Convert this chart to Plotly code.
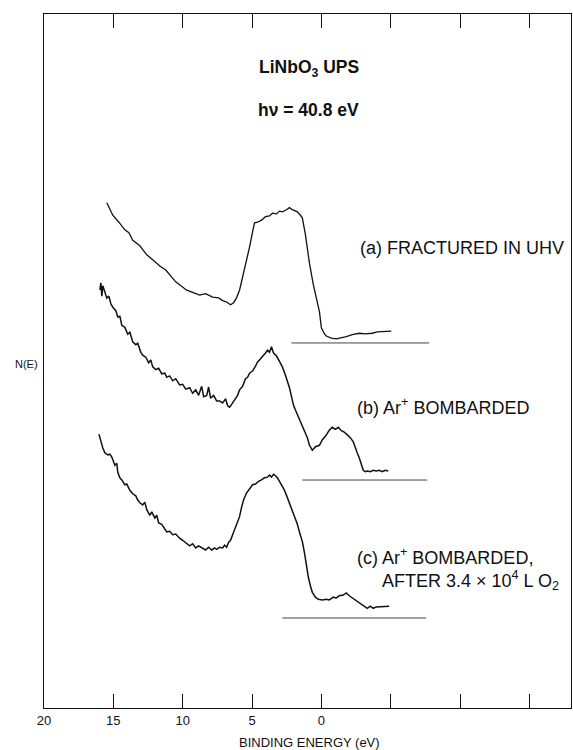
import plotly.graph_objects as go

# Binding energy (eV) and N(E) (arbitrary units, relative to each zero line)
energy_a = [15.47, 15.04, 14.60, 14.17, 13.88, 13.60, 13.09, 12.59, 12.16, 11.65,
            11.22, 10.79, 10.50, 10.22, 9.71, 9.28, 8.78, 8.35, 7.84, 7.41,
            7.12, 6.83, 6.55, 6.33, 6.12, 5.90, 5.68, 5.40, 5.18, 4.96,
            4.82, 4.60, 4.32, 4.03, 3.74, 3.53, 3.24, 3.02, 2.81, 2.52,
            2.30, 2.09, 1.87, 1.73, 1.51, 1.37, 1.15, 0.86, 0.58, 0.36,
            0.14, 0.00, -0.22, -0.36, -0.72, -1.08, -1.44, -1.80, -2.23, -2.73,
            -3.17, -3.67, -4.03, -4.39, -4.75, -5.04]
counts_a = [20.2, 18.4, 17.4, 16.3, 15.9, 14.8, 14.0, 12.7, 12.0, 11.1,
            10.5, 9.5, 8.8, 8.4, 7.6, 7.3, 6.9, 7.1, 6.6, 6.5,
            6.1, 5.9, 5.5, 5.8, 6.5, 7.6, 9.5, 11.7, 13.8, 16.0,
            17.3, 17.4, 17.7, 18.2, 18.3, 18.7, 18.6, 19.0, 18.9, 19.2,
            19.5, 19.2, 19.0, 18.9, 18.4, 18.0, 15.6, 11.5, 8.4, 6.6,
            4.5, 2.2, 1.3, 1.0, 0.7, 0.6, 0.7, 0.9, 1.2, 1.4,
            1.3, 1.4, 1.6, 1.6, 1.7, 1.7]

energy_b = [15.97, 15.90, 15.83, 15.76, 15.61, 15.47, 15.32, 15.18, 15.04, 14.82,
            14.68, 14.53, 14.39, 14.17, 13.96, 13.81, 13.60, 13.38, 13.24, 13.02,
            12.88, 12.66, 12.45, 12.30, 12.16, 11.94, 11.73, 11.51, 11.29, 11.15,
            10.94, 10.72, 10.50, 10.22, 10.00, 9.78, 9.50, 9.28, 9.06, 8.85,
            8.63, 8.49, 8.27, 8.13, 7.99, 7.77, 7.55, 7.34, 7.12, 6.91,
            6.76, 6.62, 6.47, 6.26, 6.04, 5.90, 5.68, 5.47, 5.32, 5.18,
            4.96, 4.75, 4.60, 4.46, 4.24, 4.03, 3.88, 3.74, 3.60, 3.45,
            3.24, 3.09, 2.95, 2.81, 2.59, 2.45, 2.30, 2.16, 2.01, 1.87,
            1.73, 1.51, 1.37, 1.22, 1.01, 0.86, 0.65, 0.43, 0.14, -0.07,
            -0.29, -0.58, -0.79, -1.01, -1.22, -1.44, -1.65, -1.87, -2.09, -2.30,
            -2.45, -2.59, -2.73, -2.88, -3.02, -3.17, -3.31, -3.53, -3.74, -3.96,
            -4.17, -4.39, -4.60, -4.82]
counts_b = [27.4, 28.4, 26.5, 28.0, 27.1, 26.2, 26.5, 25.4, 24.9, 24.4,
            23.5, 23.6, 22.3, 22.0, 21.0, 21.3, 19.9, 19.5, 19.7, 18.4,
            18.0, 17.7, 16.9, 17.3, 16.3, 15.9, 16.1, 15.3, 15.4, 14.8,
            15.0, 14.3, 14.6, 13.7, 13.8, 13.1, 13.3, 12.5, 13.0, 12.2,
            13.5, 12.0, 12.2, 13.4, 11.8, 12.2, 11.4, 11.4, 11.1, 11.7,
            10.7, 10.5, 10.9, 11.5, 12.2, 13.0, 13.5, 14.6, 14.8, 15.4,
            15.7, 16.4, 17.0, 17.3, 17.9, 18.3, 18.7, 18.4, 19.2, 18.3,
            17.9, 17.4, 16.9, 16.3, 15.1, 14.3, 13.3, 12.1, 10.8, 10.1,
            9.4, 8.5, 7.8, 7.1, 6.1, 5.0, 4.3, 4.8, 5.0, 5.8,
            6.3, 7.2, 7.6, 7.3, 7.6, 7.1, 6.9, 6.5, 6.1, 5.5,
            4.8, 3.9, 3.2, 2.2, 1.4, 1.2, 1.3, 1.2, 1.4, 1.3,
            1.4, 1.2, 1.4, 1.3]

energy_c = [16.04, 15.97, 15.90, 15.76, 15.61, 15.40, 15.25, 15.11, 14.89, 14.75,
            14.68, 14.53, 14.39, 14.17, 14.03, 13.81, 13.60, 13.38, 13.24, 13.09,
            12.88, 12.73, 12.59, 12.37, 12.23, 12.01, 11.87, 11.73, 11.51, 11.37,
            11.15, 10.94, 10.72, 10.50, 10.22, 10.00, 9.78, 9.50, 9.28, 9.06,
            8.85, 8.56, 8.35, 8.13, 7.91, 7.70, 7.55, 7.34, 7.12, 6.98,
            6.83, 6.69, 6.55, 6.40, 6.26, 6.12, 5.90, 5.76, 5.61, 5.40,
            5.18, 4.96, 4.75, 4.53, 4.32, 4.10, 3.88, 3.74, 3.60, 3.45,
            3.31, 3.17, 3.02, 2.81, 2.66, 2.52, 2.30, 2.09, 1.87, 1.73,
            1.58, 1.37, 1.22, 1.08, 0.94, 0.79, 0.65, 0.43, 0.22, -0.07,
            -0.36, -0.58, -0.86, -1.08, -1.29, -1.58, -1.80, -2.01, -2.23, -2.45,
            -2.66, -2.88, -3.09, -3.31, -3.53, -3.74, -3.96, -4.17, -4.46, -4.75,
            -4.89]
counts_c = [26.5, 25.9, 25.5, 24.5, 23.8, 23.5, 23.6, 23.2, 22.0, 22.3,
            21.0, 20.2, 19.9, 19.2, 19.3, 18.4, 17.9, 17.6, 17.0, 16.6,
            16.3, 16.7, 15.6, 14.8, 15.3, 14.4, 14.8, 13.7, 13.5, 13.0,
            12.4, 12.5, 12.0, 12.1, 11.5, 11.2, 10.8, 10.4, 10.7, 10.1,
            10.4, 10.1, 9.8, 10.2, 9.8, 10.1, 9.9, 10.2, 10.1, 10.5,
            10.2, 10.9, 11.2, 12.0, 12.7, 13.4, 14.6, 15.9, 17.0, 18.0,
            18.7, 19.2, 19.3, 19.7, 19.9, 20.2, 20.3, 20.6, 20.3, 20.7,
            20.5, 20.2, 19.7, 19.0, 18.4, 17.7, 16.6, 15.3, 14.4, 13.5,
            12.4, 11.0, 9.4, 7.6, 5.9, 4.6, 3.7, 3.0, 2.7, 2.6,
            2.7, 2.6, 3.0, 2.9, 3.2, 3.3, 3.6, 3.2, 2.9, 2.6,
            2.2, 1.9, 1.6, 1.4, 1.7, 1.4, 1.6, 1.6, 1.7, 1.6,
            1.7]

# Vertical offset of each spectrum and the energy span of its zero line
offsets = {"a": 52.6, "b": 32.85, "c": 12.97}
zero_spans = {"a": [2.16, -7.77], "b": [1.37, -7.63], "c": [2.81, -7.55]}
line_widths = {"a": 1.3, "b": 1.5, "c": 1.5}

tick_vals = [20, 15, 10, 5, 0, -5, -10, -15]
tick_text = ["20", "15", "10", "5", "0", "", "", ""]

INK = "#111111"
FONT = "Liberation Sans, Arial, Helvetica, sans-serif"

fig = go.Figure()

spectra = [("a", energy_a, counts_a), ("b", energy_b, counts_b), ("c", energy_c, counts_c)]
for key, e, n in spectra:
    off = offsets[key]
    fig.add_trace(go.Scatter(
        x=e, y=[v + off for v in n], mode="lines",
        line=dict(color=INK, width=line_widths[key]), hoverinfo="skip", showlegend=False))
    fig.add_trace(go.Scatter(
        x=zero_spans[key], y=[off, off], mode="lines",
        line=dict(color="#444444", width=1), hoverinfo="skip", showlegend=False))

fig.update_xaxes(
    range=[20, -18], showgrid=False, zeroline=False,
    showline=True, linecolor=INK, linewidth=1, mirror="ticks",
    ticks="inside", ticklen=14, tickwidth=1, tickcolor=INK,
    tickvals=tick_vals, ticktext=tick_text,
    tickfont=dict(family=FONT, size=13, color=INK))
fig.update_yaxes(
    range=[0, 100], showgrid=False, zeroline=False,
    showline=True, linecolor=INK, linewidth=1, mirror=True,
    ticks="", showticklabels=False)

notes = [
    dict(text="<b>LiNbO<sub>3</sub> UPS</b>", x=0.503, y=0.921, xanchor="center", size=17.5),
    dict(text="<b>h\u03bd = 40.8 eV</b>", x=0.501, y=0.862, xanchor="center", size=17.5),
    dict(text="(a) FRACTURED IN UHV", x=0.596, y=0.663, xanchor="left", size=18),
    dict(text="(b) Ar<sup>+</sup> BOMBARDED", x=0.590, y=0.434, xanchor="left", size=18),
    dict(text="(c) Ar<sup>+</sup> BOMBARDED,", x=0.590, y=0.218, xanchor="left", size=18),
    dict(text="AFTER 3.4 \u00d7 10<sup>4</sup> L O<sub>2</sub>", x=0.638, y=0.184,
         xanchor="left", size=18),
    dict(text="N(E)", x=-0.059, y=0.496, xanchor="left", size=11),
    dict(text="BINDING ENERGY (eV)", x=0.504, y=-0.05, xanchor="center", size=13),
]
for a in notes:
    fig.add_annotation(
        text=a["text"], xref="paper", yref="paper", x=a["x"], y=a["y"],
        xanchor=a["xanchor"], yanchor="middle", showarrow=False,
        font=dict(family=FONT, size=a["size"], color=INK))

fig.update_layout(
    width=573, height=750,
    margin=dict(l=44, r=2, t=14, b=42),
    paper_bgcolor="white", plot_bgcolor="white")

fig.write_html("out.html")
